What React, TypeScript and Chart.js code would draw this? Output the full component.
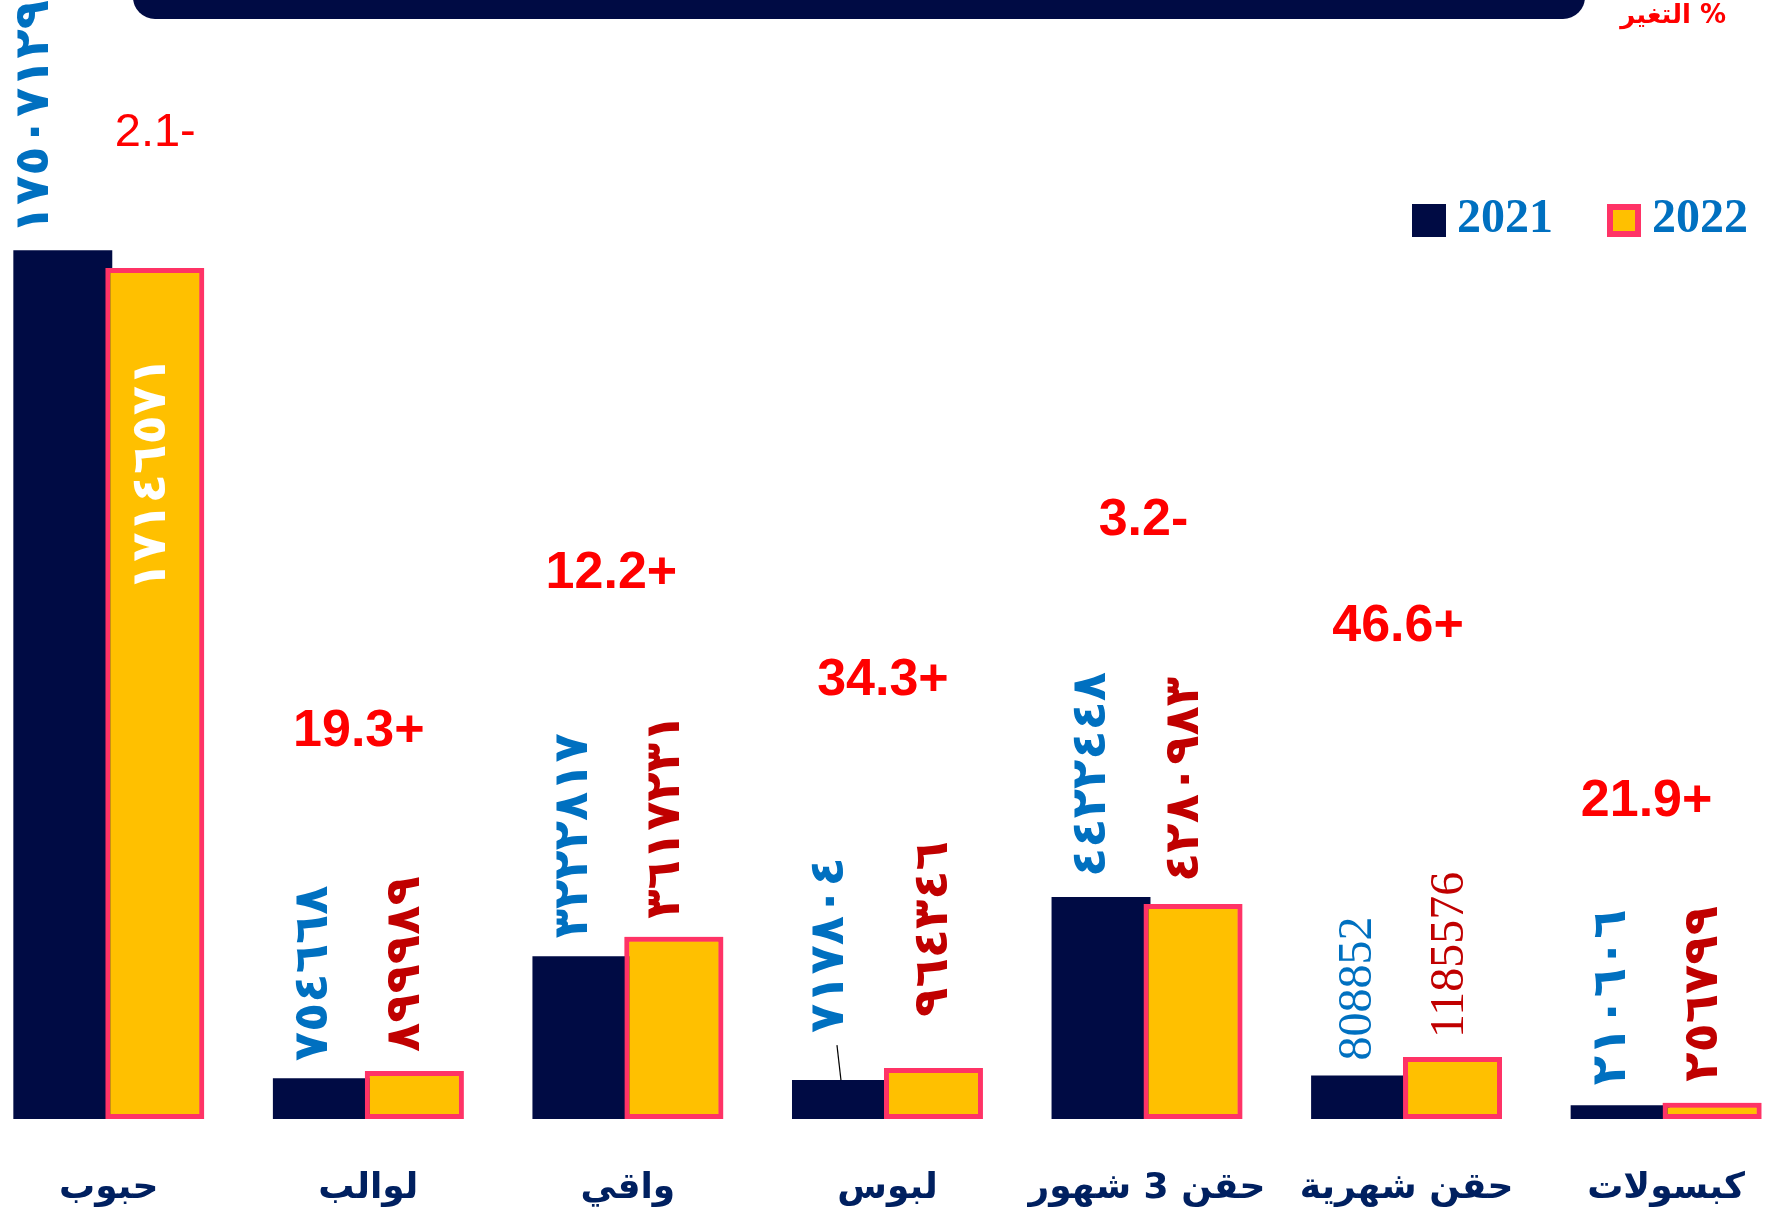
import React, { useEffect, useRef } from "react";
import { Chart, registerables } from "chart.js";

Chart.register(...registerables);

// ---------- data ----------
const categories = ["حبوب", "لوالب", "واقي", "لبوس", "حقن 3 شهور", "حقن شهرية", "كبسولات"];
const seriesNames = ["2021", "2022"];
const values2021 = [17507129, 754668, 3222817, 717804, 4422448, 808852, 210606];
const values2022 = [17146571, 899989, 3617231, 964346, 4280983, 1185576, 256799];
const changePct = [-2.1, 19.3, 12.2, 34.3, -3.2, 46.6, 21.9];
const digitScript = ["arabic", "arabic", "arabic", "arabic", "arabic", "latin", "arabic"];

// ---------- label placement (pixels) ----------
const gap2021 = [16, 17, 18, 47, 20, 15, 20];
const gap2022 = [19, 19, 18, 51, 22, 19, 21];
const dx2021 = [-27.5, -7.5, -7.5, -10.5, -8.5, -2.5, -7.5];
const dx2022 = [-2.5, -7.5, -7.5, 1.5, -7.5, -2.5, -7.5];
const changeLift = [104, 325, 349, 373, 362, 416, 287];
const changeDx = [46.5, -9.5, -16.5, -4.5, -3.5, -8.5, -19.5];

const NAVY = "#000B44";
const YELLOW = "#FFC000";
const PINK = "#FF3366";
const BLUE = "#0070C0";
const DARKRED = "#C00000";

const toArabic = (s: string) => s.replace(/[0-9]/g, (d) => "٠١٢٣٤٥٦٧٨٩"[+d]);

const labelPlugin = {
  id: "valueLabels",
  afterDatasetsDraw(chart: any) {
    const ctx = chart.ctx as CanvasRenderingContext2D;
    const m0 = chart.getDatasetMeta(0);
    const m1 = chart.getDatasetMeta(1);
    // 2022 bars overlap the 2021 bars (drawn on top, as in the original)
    ctx.save();
    m1.data.forEach((el: any) => el.draw(ctx, chart.chartArea));
    ctx.restore();

    ctx.save();
    ctx.direction = "ltr";
    const drawRot = (text: string, x: number, y: number, color: string, font: string) => {
      ctx.save();
      ctx.translate(x, y);
      ctx.rotate(-Math.PI / 2);
      ctx.font = font;
      ctx.fillStyle = color;
      ctx.textAlign = "left";
      ctx.textBaseline = "middle";
      ctx.fillText(text, 0, 0);
      ctx.restore();
    };
    for (let i = 0; i < categories.length; i++) {
      const b0 = m0.data[i] as any;
      const b1 = m1.data[i] as any;
      const latin = digitScript[i] === "latin";
      const t0 = latin ? String(values2021[i]) : toArabic(String(values2021[i]));
      const t1 = latin ? String(values2022[i]) : toArabic(String(values2022[i]));
      const font = latin ? "48px 'Liberation Serif'" : "bold 48px 'DejaVu Sans'";
      // 2021
      drawRot(t0, b0.x + dx2021[i], b0.y - gap2021[i], BLUE, font);
      if (i === 3) {
        ctx.strokeStyle = "#000000";
        ctx.lineWidth = 1.2;
        ctx.beginPath();
        ctx.moveTo(b0.x - 4.5, b0.y - 35);
        ctx.lineTo(b0.x - 0.5, b0.y);
        ctx.stroke();
      }
      // 2022
      if (i === 0) {
        drawRot(t1, b1.x + dx2022[i], b1.y + 323, "#FFFFFF", font);
      } else {
        drawRot(t1, b1.x + dx2022[i], b1.y - gap2022[i], DARKRED, font);
      }
      // change %
      const v = changePct[i];
      const txt = Math.abs(v).toFixed(1) + (v < 0 ? "-" : "+");
      ctx.font = i === 0 ? "47px 'Liberation Sans'" : "bold 52px 'Liberation Sans'";
      ctx.fillStyle = "#FF0000";
      ctx.textAlign = "center";
      ctx.textBaseline = "alphabetic";
      const top = Math.min(b0.y, b1.y);
      ctx.fillText(txt, (b0.x + b1.x) / 2 + changeDx[i], top - changeLift[i]);
    }
    ctx.restore();
  },
};

export default function App() {
  const ref = useRef<HTMLCanvasElement | null>(null);
  useEffect(() => {
    document.body.style.margin = "0";
    const canvas = ref.current!;
    const chart = new Chart(canvas, {
      type: "bar",
      data: {
        labels: categories,
        datasets: [
          {
            label: seriesNames[0],
            data: values2021,
            backgroundColor: NAVY,
            borderWidth: 0,
            base: -70000,
          } as any,
          {
            label: seriesNames[1],
            data: values2022,
            backgroundColor: YELLOW,
            borderColor: PINK,
            borderWidth: 5,
            borderSkipped: false,
            base: -70000,
          } as any,
        ],
      },
      options: {
        responsive: false,
        animation: false,
        devicePixelRatio: 1,
        layout: { padding: 0 },
        datasets: { bar: { categoryPercentage: 0.7085, barPercentage: 1.076 } },
        plugins: { legend: { display: false }, tooltip: { enabled: false } },
        scales: {
          x: {
            grid: { display: false, drawTicks: false },
            border: { display: false },
            afterFit: (scale: any) => {
              scale.height = 100;
            },
            ticks: {
              color: "#002060",
              font: { family: "'DejaVu Sans'", size: 36, weight: "bold", lineHeight: 1 },
              padding: 52,
              maxRotation: 0,
              minRotation: 0,
              autoSkip: false,
            },
          },
          y: { display: false, min: -70000, max: 22571000 },
        },
      } as any,
      plugins: [labelPlugin],
    });
    return () => chart.destroy();
  }, []);

  return (
    <div style={{ position: "fixed", left: 0, top: 0, width: 1772, height: 1219, overflow: "hidden", background: "#fff" }}>
      <canvas ref={ref} width={1818} height={1219} dir="rtl" style={{ position: "absolute", left: -21, top: 0, width: 1818, height: 1219 }} />
      <div style={{ position: "absolute", left: 133, top: -60, width: 1452, height: 79, borderRadius: 22, background: NAVY }} />
      <div dir="rtl" style={{ position: "absolute", right: 1772 - 1726, top: -6, font: "bold 26px 'DejaVu Sans'", lineHeight: "40px", color: "#FF0000", whiteSpace: "nowrap" }}>% التغير</div>
      <div style={{ position: "absolute", left: 1412, top: 204, width: 34, height: 33, background: NAVY }} />
      <div style={{ position: "absolute", left: 1457, top: 192, font: "bold 48px 'Liberation Serif'", lineHeight: "48px", color: BLUE }}>{seriesNames[0]}</div>
      <div style={{ position: "absolute", left: 1607, top: 204, width: 34, height: 33, boxSizing: "border-box", border: `6px solid ${PINK}`, background: YELLOW }} />
      <div style={{ position: "absolute", left: 1652, top: 192, font: "bold 48px 'Liberation Serif'", lineHeight: "48px", color: BLUE }}>{seriesNames[1]}</div>
    </div>
  );
}
